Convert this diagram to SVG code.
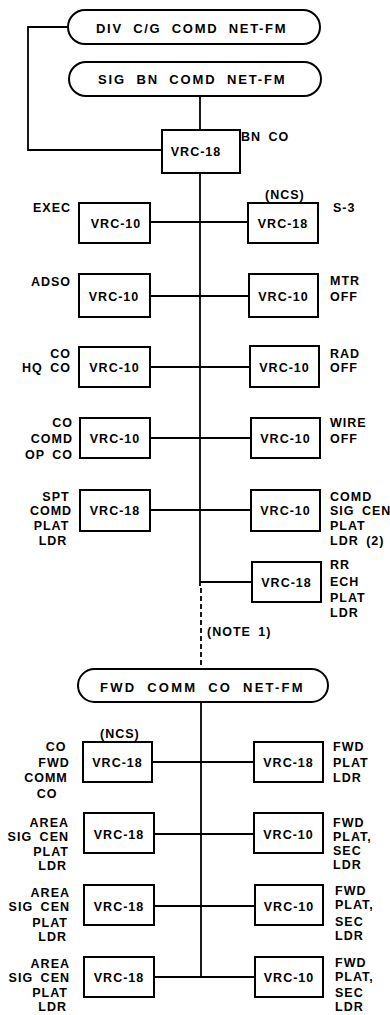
<svg xmlns="http://www.w3.org/2000/svg" width="390" height="1015" viewBox="0 0 390 1015">
<style>
.t{font-family:"Liberation Sans",Arial,sans-serif;font-weight:bold;font-size:12.5px;letter-spacing:1px;word-spacing:3px;fill:#000}
.m{text-anchor:middle}
.e{text-anchor:end}
.p{font-size:13px;letter-spacing:2.4px;word-spacing:5px}
.box{fill:#fff;stroke:#000;stroke-width:2}
.pill{fill:#fff;stroke:#000;stroke-width:2}
.ln{fill:none;stroke:#000;stroke-width:1.8}
.dash{fill:none;stroke:#000;stroke-width:1.8;stroke-dasharray:5 3}
</style>
<rect width="390" height="1015" fill="#fff"/>
<g id="connectors">
<polyline class="ln" points="68,27 28,27 28,150 162,150"/>
<line class="ln" x1="200" y1="96" x2="200" y2="130"/>
<line class="ln" x1="200" y1="173" x2="200" y2="586"/>
<line class="dash" x1="201" y1="588" x2="201" y2="669"/>
<line class="ln" x1="150" y1="222" x2="248" y2="222"/>
<line class="ln" x1="150" y1="296" x2="249" y2="296"/>
<line class="ln" x1="150" y1="367" x2="250" y2="367"/>
<line class="ln" x1="150" y1="438" x2="251" y2="438"/>
<line class="ln" x1="150" y1="510" x2="251" y2="510"/>
<line class="ln" x1="200" y1="582" x2="252" y2="582"/>
<line class="ln" x1="201" y1="702" x2="201" y2="977"/>
<line class="ln" x1="152" y1="762" x2="254" y2="762"/>
<line class="ln" x1="154" y1="834" x2="254" y2="834"/>
<line class="ln" x1="154" y1="906" x2="255" y2="906"/>
<line class="ln" x1="154" y1="977" x2="255" y2="977"/>
</g>
<g id="div-net">
<rect class="pill" x="68" y="10" width="252" height="34" rx="17"/>
<text class="t p" x="96" y="32.5" textLength="192" lengthAdjust="spacing">DIV C/G COMD NET-FM</text>
</g>
<g id="sig-bn-net">
<rect class="pill" x="69" y="62" width="252" height="34" rx="17"/>
<text class="t p" x="98" y="83.5" textLength="189" lengthAdjust="spacing">SIG BN COMD NET-FM</text>
</g>
<g id="bn-co">
<rect class="box" x="162" y="130" width="78" height="43"/>
<text class="t m" x="196" y="155.5">VRC-18</text>
<text class="t" x="241" y="140.5">BN CO</text>
</g>
<g id="exec">
<rect class="box" x="79" y="203" width="71" height="40"/>
<text class="t m" x="116" y="227.5">VRC-10</text>
<text class="t e" x="71" y="211.5">EXEC</text>
</g>
<g id="s3">
<rect class="box" x="248" y="203" width="70" height="40"/>
<text class="t m" x="283" y="227.5">VRC-18</text>
<text class="t" x="265" y="198.5">(NCS)</text>
<text class="t" x="333" y="211.5">S-3</text>
</g>
<g id="adso">
<rect class="box" x="79" y="274" width="71" height="43"/>
<text class="t m" x="114" y="300.5">VRC-10</text>
<text class="t e" x="71" y="285.5">ADSO</text>
</g>
<g id="mtr-off">
<rect class="box" x="249" y="274" width="69" height="43"/>
<text class="t m" x="283.5" y="300.5">VRC-10</text>
<text class="t" x="330" y="284.5">MTR</text>
<text class="t" x="330" y="300.5">OFF</text>
</g>
<g id="hq-co">
<rect class="box" x="79" y="347" width="71" height="40"/>
<text class="t m" x="114.5" y="371.5">VRC-10</text>
<text class="t e" x="71" y="357.5">CO</text>
<text class="t e" x="71" y="371.5">HQ CO</text>
</g>
<g id="rad-off">
<rect class="box" x="250" y="346" width="69" height="41"/>
<text class="t m" x="284.5" y="371.5">VRC-10</text>
<text class="t" x="330" y="357.5">RAD</text>
<text class="t" x="330" y="371.5">OFF</text>
</g>
<g id="op-co">
<rect class="box" x="80" y="418" width="70" height="40"/>
<text class="t m" x="115" y="442.5">VRC-10</text>
<text class="t e" x="73" y="427">CO</text>
<text class="t e" x="73" y="442.5">COMD</text>
<text class="t e" x="73" y="459">OP CO</text>
</g>
<g id="wire-off">
<rect class="box" x="251" y="418" width="69" height="40"/>
<text class="t m" x="285.5" y="442.5">VRC-10</text>
<text class="t" x="330" y="427">WIRE</text>
<text class="t" x="330" y="442.5">OFF</text>
</g>
<g id="spt-comd">
<rect class="box" x="80" y="490" width="70" height="41"/>
<text class="t m" x="115" y="514.5">VRC-18</text>
<text class="t m" x="56" y="500.5">SPT</text>
<text class="t m" x="51" y="514.5">COMD</text>
<text class="t m" x="51.5" y="529.5">PLAT</text>
<text class="t m" x="53" y="545">LDR</text>
</g>
<g id="comd-sig-cen">
<rect class="box" x="251" y="490" width="69" height="41"/>
<text class="t m" x="285.5" y="514.5">VRC-10</text>
<text class="t" x="330" y="500.5">COMD</text>
<text class="t" x="330" y="514.5">SIG CEN</text>
<text class="t" x="330" y="529.5">PLAT</text>
<text class="t" x="330" y="545">LDR (2)</text>
</g>
<g id="rr-ech">
<rect class="box" x="252" y="562" width="69" height="40"/>
<text class="t m" x="286.5" y="586.5">VRC-18</text>
<text class="t" x="330" y="568.5">RR</text>
<text class="t" x="330" y="585.5">ECH</text>
<text class="t" x="330" y="601.5">PLAT</text>
<text class="t" x="330" y="616.5">LDR</text>
</g>
<g id="note">
<text class="t" x="207" y="635.5" letter-spacing="2">(NOTE 1)</text>
</g>
<g id="fwd-net">
<rect class="pill" x="78" y="669" width="250" height="33" rx="16.5"/>
<text class="t p" x="100" y="691.5" textLength="205" lengthAdjust="spacing">FWD COMM CO NET-FM</text>
</g>
<g id="fwd-comm-co">
<rect class="box" x="83" y="742" width="69" height="40"/>
<text class="t m" x="117.5" y="766.5">VRC-18</text>
<text class="t" x="100" y="737.5">(NCS)</text>
<text class="t m" x="56" y="750.5">CO</text>
<text class="t m" x="54" y="766.5">FWD</text>
<text class="t m" x="46" y="782">COMM</text>
<text class="t m" x="47" y="797.5">CO</text>
</g>
<g id="fwd-plat-ldr">
<rect class="box" x="254" y="742" width="69" height="40"/>
<text class="t m" x="288.5" y="766.5">VRC-18</text>
<text class="t" x="333" y="750.5">FWD</text>
<text class="t" x="333" y="766.5">PLAT</text>
<text class="t" x="333" y="782">LDR</text>
</g>
<g id="area-1">
<rect class="box" x="84" y="813" width="70" height="40"/>
<text class="t m" x="119" y="839">VRC-18</text>
<text class="t e" x="69" y="826.5">AREA</text>
<text class="t e" x="69" y="840.5">SIG CEN</text>
<text class="t e" x="69" y="855.5">PLAT</text>
<text class="t e" x="67" y="869.5">LDR</text>
</g>
<g id="fwd-sec-1">
<rect class="box" x="254" y="813" width="69" height="40"/>
<text class="t m" x="288.5" y="839">VRC-10</text>
<text class="t" x="333" y="826.5">FWD</text>
<text class="t" x="333" y="841">PLAT,</text>
<text class="t" x="333" y="855">SEC</text>
<text class="t" x="333" y="868.5">LDR</text>
</g>
<g id="area-2">
<rect class="box" x="84" y="885" width="70" height="40"/>
<text class="t m" x="119" y="911">VRC-18</text>
<text class="t e" x="70" y="896.5">AREA</text>
<text class="t e" x="70" y="910.5">SIG CEN</text>
<text class="t e" x="68" y="926.5">PLAT</text>
<text class="t e" x="67" y="940.5">LDR</text>
</g>
<g id="fwd-sec-2">
<rect class="box" x="255" y="885" width="68" height="40"/>
<text class="t m" x="289" y="911">VRC-10</text>
<text class="t" x="335" y="894.5">FWD</text>
<text class="t" x="335" y="908.5">PLAT,</text>
<text class="t" x="335" y="925.5">SEC</text>
<text class="t" x="335" y="939.5">LDR</text>
</g>
<g id="area-3">
<rect class="box" x="84" y="957" width="70" height="40"/>
<text class="t m" x="119" y="981.5">VRC-18</text>
<text class="t e" x="70" y="967.5">AREA</text>
<text class="t e" x="70" y="981.5">SIG CEN</text>
<text class="t e" x="68" y="996.5">PLAT</text>
<text class="t e" x="67" y="1010.5">LDR</text>
</g>
<g id="fwd-sec-3">
<rect class="box" x="255" y="957" width="68" height="40"/>
<text class="t m" x="289" y="981.5">VRC-10</text>
<text class="t" x="335" y="966.5">FWD</text>
<text class="t" x="335" y="980.5">PLAT,</text>
<text class="t" x="335" y="996.5">SEC</text>
<text class="t" x="335" y="1010.5">LDR</text>
</g>
</svg>
